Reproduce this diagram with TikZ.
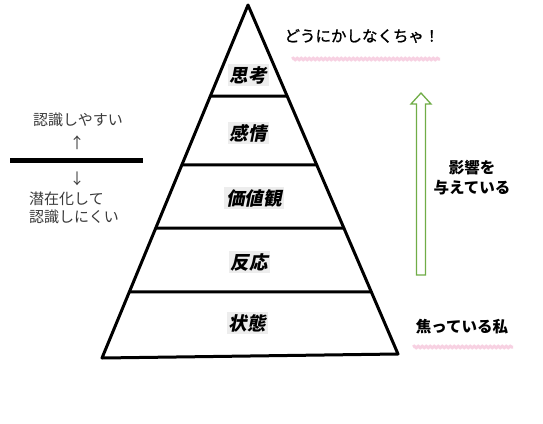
\documentclass[tikz,border=0pt]{standalone}
\usepackage{fontspec}
\newfontfamily\jp{Noto Sans CJK JP}
\newfontfamily\jpm[FakeBold=1.2]{Noto Sans CJK JP}
\newfontfamily\jpl[FakeSlant=0.2]{Noto Sans CJK JP}
\usetikzlibrary{calc,decorations.pathmorphing}
\definecolor{txtgray}{HTML}{3A3A3A}
\definecolor{arrgreen}{RGB}{112,173,71}
\definecolor{hlpink}{RGB}{245,190,215}
\definecolor{lblbg}{HTML}{EDEDED}
\tikzset{
  pyr/.style={line width=3pt, line join=round, line cap=round},
  lbl/.style={fill=lblbg, inner sep=2pt, font=\jpl\bfseries\fontsize{18.5}{18.5}\selectfont},
  lefttxt/.style={text=txtgray, inner sep=0pt, font=\jp\fontsize{15}{18}\selectfont},
  righttxt/.style={inner sep=0pt, font=\jp\bfseries\fontsize{15.5}{20}\selectfont},
  wavy/.style={hlpink, line width=3pt, opacity=0.7, decorate,
    decoration={snake, amplitude=0.8pt, segment length=4pt}}
}
\begin{document}
\begin{tikzpicture}[x=1pt,y=-1pt]
\useasboundingbox[fill=white] (0,0) rectangle (543,423);
% pyramid
\coordinate (A) at (248,5);
\coordinate (L) at (102,358);
\coordinate (R) at (398,354);
\draw[pyr] (A) -- (L) -- (R) -- cycle;
\draw[pyr] ($(A)!0.258!(L)$) -- ($(A)!0.261!(R)$);
\draw[pyr] ($(A)!0.453!(L)$) -- ($(A)!0.458!(R)$);
\draw[pyr] ($(A)!0.632!(L)$) -- ($(A)!0.639!(R)$);
\draw[pyr] ($(A)!0.813!(L)$) -- ($(A)!0.822!(R)$);
\node[lbl] (l1) at (248,75) {思考};
\node[lbl] (l2) at (248,133) {感情};
\node[lbl] (l3) at (254,198) {価値観};
\node[lbl] (l4) at (249,262) {反応};
\node[lbl] (l5) at (247,323) {状態};
% left side
\node[lefttxt] (easy) at (78,120) {認識しやすい};
\node[lefttxt] (up) at (77,143) {↑};
\coordinate (bl) at (10,160);
\coordinate (br) at (143,160);
\draw[line width=5pt] (bl) -- (br);
\node[lefttxt] (down) at (77,179) {↓};
\node[lefttxt, anchor=west, align=left] (hard) at (29,208) {潜在化して\\認識しにくい};
% right side
\node[inner sep=0pt, font=\jpm\fontsize{15.5}{20}\selectfont] (must) at (362,36) {どうにかしなくちゃ！};
\coordinate (w1a) at (292,59);
\coordinate (w1b) at (440,59);
\draw[wavy] (w1a) -- (w1b);
\draw[arrgreen, line width=1.3pt, line join=miter]
  (416.5,275) -- (416.5,104) -- (411,104) -- (421,93) -- (431,104) -- (425.5,104) -- (425.5,275) -- cycle;
\node[righttxt, align=center] (infl) at (472,178) {影響を\\与えている};
\node[righttxt] (me) at (462,327) {焦っている私};
\coordinate (w2a) at (413,347);
\coordinate (w2b) at (513,347);
\draw[wavy] (w2a) -- (w2b);
\end{tikzpicture}
\end{document}
